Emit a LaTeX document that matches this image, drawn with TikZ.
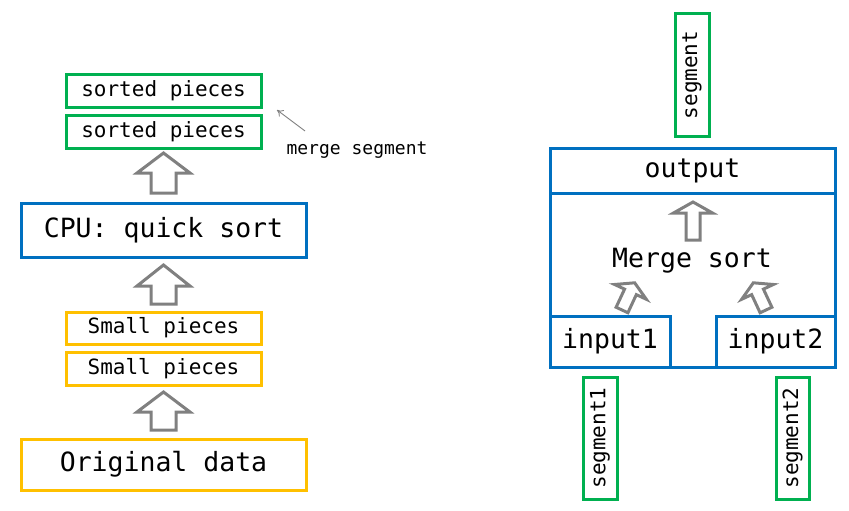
\documentclass[tikz,border=0pt]{standalone}
\usepackage{fontspec}
\setmonofont{DejaVu Sans Mono}
\usetikzlibrary{arrows.meta}
\definecolor{cgreen}{HTML}{00B050}
\definecolor{cblue}{HTML}{0070C0}
\definecolor{cyellow}{HTML}{FFC000}
\definecolor{cgray}{HTML}{808080}
\tikzset{
  box/.style={draw, line width=3pt, inner sep=0pt, text=black},
  gbox/.style={box, draw=cgreen},
  bbox/.style={box, draw=cblue},
  ybox/.style={box, draw=cyellow},
  fmid/.style={font=\ttfamily\fontsize{21}{21}\selectfont},
  fbig/.style={font=\ttfamily\fontsize{26.5}{26.5}\selectfont},
  fsmall/.style={font=\ttfamily\fontsize{18}{18}\selectfont},
  blockarrow/.style={draw=cgray, line width=3pt, fill=white, line join=miter},
  pics/barrow/.style n args={4}{code={
    \draw[blockarrow] (-#1,0) -- (-#1,-#3+#4) -- (-#2,-#3+#4) -- (0,-#3)
      -- (#2,-#3+#4) -- (#1,-#3+#4) -- (#1,0) -- cycle;}}
}
\begin{document}
\begin{tikzpicture}[x=1pt,y=-1pt]
\useasboundingbox[fill=white] (0,0) rectangle (849,511);

% left column
\node[gbox, fmid, minimum width=195pt, minimum height=32pt] (sp1) at (163.5,91) {sorted pieces};
\node[gbox, fmid, minimum width=195pt, minimum height=33pt] (sp2) at (163.5,131.5) {sorted pieces};
\node[fsmall, inner sep=0pt] (mseg) at (357,150) {merge segment};
\coordinate (mfrom) at (305,131);
\coordinate (mto) at (277,110);
\draw[cgray, line width=0.9pt, -{To[length=6pt,width=8pt]}] (mfrom) -- (mto);

\pic at (163.5,193) {barrow={12.5}{26.5}{40}{20}};
\node[bbox, fbig, minimum width=285pt, minimum height=54pt] (cpu) at (163.5,230) {CPU: quick sort};
\pic at (163.5,304) {barrow={12.5}{26.5}{39}{21}};
\node[ybox, fmid, minimum width=195pt, minimum height=32pt] (sm1) at (163.5,328) {Small pieces};
\node[ybox, fmid, minimum width=195pt, minimum height=33pt] (sm2) at (163.5,368.5) {Small pieces};
\pic at (163.5,430) {barrow={12.5}{26.5}{38}{20}};
\node[ybox, fbig, minimum width=285pt, minimum height=51pt] (orig) at (163.5,464.5) {Original data};

% right structure
\node[gbox, fmid, rotate=90, minimum width=122pt, minimum height=34pt] (seg) at (692,75) {segment};
\node[bbox, minimum width=285pt, minimum height=219pt] (mbox) at (692.5,257.5) {};
\node[bbox, fbig, minimum width=285pt, minimum height=45pt] (out) at (692.5,170.5) {output};
\node[bbox, fbig, minimum width=120pt, minimum height=51pt] (in1) at (610,341.5) {input1};
\node[bbox, fbig, minimum width=119pt, minimum height=51pt] (in2) at (775.5,341.5) {input2};
\node[fbig, inner sep=0pt] (msort) at (692,261) {Merge sort};
\pic at (693,240) {barrow={7}{19.5}{38}{11}};
\pic[rotate=-25] at (622,310) {barrow={6.5}{17.5}{30}{10}};
\pic[rotate=25] at (766,310) {barrow={6.5}{17.5}{30}{10}};
\node[gbox, fmid, rotate=90, minimum width=122pt, minimum height=34pt] (seg1) at (600,438) {segment1};
\node[gbox, fmid, rotate=90, minimum width=122pt, minimum height=33pt] (seg2) at (792.5,438) {segment2};
\end{tikzpicture}
\end{document}
